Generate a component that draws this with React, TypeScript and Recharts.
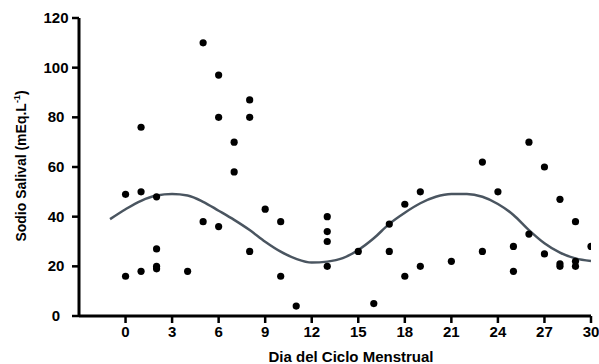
import React from "react";
import { ComposedChart, Scatter, Line, XAxis, YAxis, Label } from "recharts";

// dia del ciclo / sodio salival (mEq/L) per individual sample
const dias = [
  0, 0, 1, 1, 1, 2, 2, 2, 2, 4, 5, 5, 6, 6, 6, 7, 7, 8, 8, 8, 9, 10, 10, 11,
  13, 13, 13, 13, 15, 16, 17, 17, 18, 18, 19, 19, 21, 23, 23, 24, 25, 25, 26,
  26, 27, 27, 28, 28, 28, 29, 29, 29, 30,
];
const sodio = [
  49, 16, 76, 50, 18, 48, 27, 20, 19, 18, 110, 38, 97, 80, 36, 70, 58, 87, 80,
  26, 43, 38, 16, 4, 40, 34, 30, 20, 26, 5, 37, 26, 45, 16, 50, 20, 22, 62, 26,
  50, 28, 18, 70, 33, 60, 25, 47, 21, 20, 38, 22, 20, 28,
];

// fitted curve
const curvaDias = [
  -1, 0, 1, 2, 3, 4, 5, 6, 7, 8, 9, 10, 11, 12, 13, 14, 15, 16, 17, 18, 19, 20,
  21, 22, 23, 24, 25, 26, 27, 28, 29, 30,
];
const curvaValores = [
  39, 43, 46.4, 48.5, 49.1, 48.5, 46, 42.4, 38.7, 34.6, 29.9, 25.9, 23, 21.5,
  21.9, 23.3, 26.6, 31.3, 37.1, 41.6, 45.4, 48, 49.1, 49.1, 48, 45.1, 40.7,
  34.6, 29.3, 25.5, 23.2, 22.1,
];

const xTicks = [0, 3, 6, 9, 12, 15, 18, 21, 24, 27, 30];
const yTicks = [0, 20, 40, 60, 80, 100, 120];

const puntos = dias.map((d, i) => ({ x: d, y: sodio[i] }));
const curva = curvaDias.map((d, i) => ({ x: d, y: curvaValores[i] }));

const font = "Liberation Sans, Arial, sans-serif";

const Dot = (props: any) => (
  <circle cx={props.cx} cy={props.cy} r={3.6} fill="#000" />
);

const YTick = (props: any) => (
  <text
    x={56}
    y={props.y}
    dy={5}
    textAnchor="middle"
    fontFamily={font}
    fontWeight="bold"
    fontSize={15}
    fill="#000"
  >
    {props.payload.value}
  </text>
);

const XTick = (props: any) => (
  <text
    x={props.x}
    y={props.y}
    dy={12}
    textAnchor="middle"
    fontFamily={font}
    fontWeight="bold"
    fontSize={15}
    fill="#000"
  >
    {props.payload.value}
  </text>
);

const YTitle = () => (
  <text
    transform="translate(26,166) rotate(-90)"
    textAnchor="middle"
    fontFamily={font}
    fontWeight="bold"
    fontSize={14}
    fill="#000"
  >
    Sodio Salival (mEq.L
    <tspan dy={-6} fontSize={9}>
      -1
    </tspan>
    <tspan dy={6}>)</tspan>
  </text>
);

export default function App() {
  return (
    <div style={{ position: "absolute", left: 0, top: 0, background: "#fff" }}>
      <ComposedChart
        width={599}
        height={364}
        margin={{ top: 18, right: 8, bottom: 0, left: 0 }}
      >
        <XAxis
          type="number"
          dataKey="x"
          domain={[-3, 30]}
          ticks={xTicks}
          allowDataOverflow
          height={48}
          stroke="#000"
          strokeWidth={3}
          axisLine={{ stroke: "#000", strokeWidth: 3 }}
          tickLine={{ stroke: "#000", strokeWidth: 2.5 }}
          tickSize={7}
          tickMargin={2}
          tick={<XTick />}
        >
          <Label
            value="Dia del Ciclo Menstrual"
            position="insideBottom"
            offset={2}
            dx={16}
            style={{
              fill: "#000",
              fontSize: 15,
              fontWeight: "bold",
              fontFamily: font,
            }}
          />
        </XAxis>
        <YAxis
          type="number"
          dataKey="y"
          domain={[0, 120]}
          ticks={yTicks}
          width={79}
          stroke="#000"
          strokeWidth={3}
          axisLine={{ stroke: "#000", strokeWidth: 3 }}
          tickLine={{ stroke: "#000", strokeWidth: 2.5 }}
          tickSize={7}
          tick={<YTick />}
          label={<YTitle />}
        />
        <Line
          data={curva}
          dataKey="y"
          type="monotone"
          stroke="#4a5560"
          strokeWidth={2.5}
          dot={false}
          activeDot={false}
          isAnimationActive={false}
        />
        <Scatter
          data={puntos}
          dataKey="y"
          fill="#000"
          shape={<Dot />}
          isAnimationActive={false}
        />
      </ComposedChart>
    </div>
  );
}
